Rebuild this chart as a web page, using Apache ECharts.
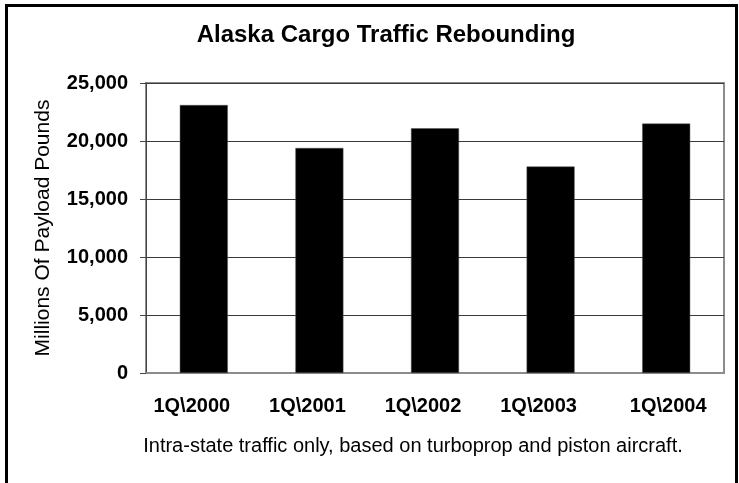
<!DOCTYPE html>
<html>
<head>
<meta charset="utf-8">
<script src="https://cdn.jsdelivr.net/npm/echarts@6/dist/echarts.min.js"></script>
<style>
  html, body { margin: 0; padding: 0; background: #fff; }
  #chart { width: 739px; height: 483px; }
</style>
</head>
<body>
<div id="chart"></div>
<script>
// Quarterly intra-state cargo volume (millions of payload pounds)
const quarters = ['1Q\\2000', '1Q\\2001', '1Q\\2002', '1Q\\2003', '1Q\\2004'];
const payloadPounds = [23100, 19400, 21100, 17800, 21500];
const yTicks = { min: 0, max: 25000, interval: 5000 };

const chartTitle = 'Alaska Cargo Traffic Rebounding';
const yAxisName = 'Millions Of Payload Pounds';
const footnote = 'Intra-state traffic only, based on turboprop and piston aircraft.';

const FONT = '"Liberation Sans", Arial, Helvetica, sans-serif';

const chart = echarts.init(document.getElementById('chart'), null, { renderer: 'canvas' });

chart.setOption({
  backgroundColor: '#ffffff',
  animation: false,
  title: {
    text: chartTitle,
    left: 381,
    top: 18,
    textAlign: 'center',
    textStyle: { fontFamily: FONT, fontWeight: 'bold', fontSize: 24, color: '#000' }
  },
  grid: {
    left: 146,
    right: 15,
    top: 83,
    bottom: 110,
    show: true,
    borderColor: '#8c8c8c',
    borderWidth: 2,
    backgroundColor: '#ffffff'
  },
  xAxis: {
    type: 'category',
    data: quarters,
    axisLine: { show: true, lineStyle: { color: '#8c8c8c', width: 2 } },
    axisTick: { show: false },
    axisLabel: {
      interval: 0,
      margin: 23,
      color: '#000',
      fontFamily: FONT,
      fontWeight: 'bold',
      fontSize: 20,
      formatter: function (v, i) {
        return i < quarters.length - 1 ? '{s|' + v + '}' : '{e|' + v + '}';
      },
      rich: {
        s: { fontFamily: FONT, fontWeight: 'bold', fontSize: 20, color: '#000', padding: [0, 24, 0, 0] },
        e: { fontFamily: FONT, fontWeight: 'bold', fontSize: 20, color: '#000', padding: [0, 0, 0, 4] }
      }
    }
  },
  yAxis: {
    type: 'value',
    min: yTicks.min,
    max: yTicks.max,
    interval: yTicks.interval,
    name: yAxisName,
    nameLocation: 'middle',
    nameGap: 92,
    nameTextStyle: { fontFamily: FONT, fontSize: 21, color: '#000' },
    axisLine: { show: true, lineStyle: { color: '#444', width: 1 } },
    axisTick: { show: true, length: 6, lineStyle: { color: '#444', width: 1 } },
    axisLabel: {
      margin: 18,
      color: '#000',
      fontFamily: FONT,
      fontWeight: 'bold',
      fontSize: 20,
      formatter: function (v) { return v.toLocaleString('en-US'); }
    },
    splitLine: { show: true, lineStyle: { color: '#3a3a3a', width: 1 } }
  },
  series: [{
    type: 'bar',
    data: payloadPounds,
    barWidth: 48,
    itemStyle: { color: '#000', borderColor: '#555', borderWidth: 0.5 }
  }],
  graphic: [
    {
      type: 'rect',
      shape: { x: 6.5, y: 5.5, width: 730, height: 520 },
      style: { fill: 'none', stroke: '#000', lineWidth: 3 },
      silent: true
    },
    {
      type: 'text',
      x: 413,
      y: 446,
      style: {
        text: footnote,
        fontFamily: FONT,
        fontSize: 20,
        fill: '#000',
        align: 'center',
        verticalAlign: 'middle'
      }
    }
  ]
});
</script>
</body>
</html>
